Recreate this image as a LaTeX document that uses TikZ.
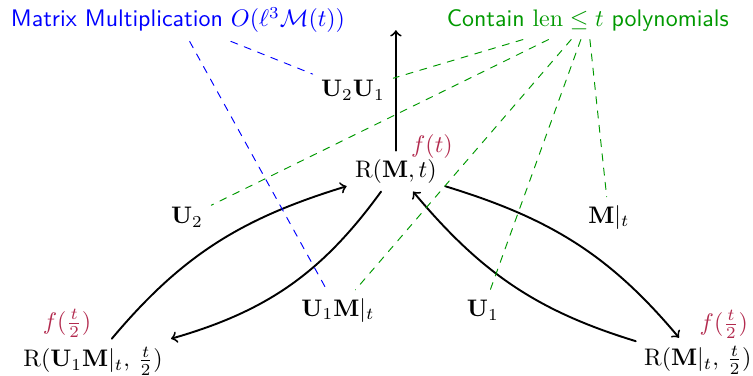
\documentclass[tikz,border=0pt]{standalone}
\usepackage{amsmath}
\definecolor{costred}{RGB}{178,42,78}
\definecolor{polygreen}{RGB}{0,153,0}
\definecolor{mulblue}{RGB}{0,0,255}

\begin{document}
\begin{tikzpicture}[line join=round, line cap=round,
    call/.style={->, thick},
    cost/.style={text=costred, inner sep=0.5pt},
    mulnote/.style={dashed, draw=mulblue},
    polynote/.style={dashed, draw=polygreen}]
  \useasboundingbox (0, 0) rectangle (11.06, 5.51);

  % Notes
  \node[text=mulblue, font=\sffamily] (mul) at (2.614, 5.213)
    {Matrix Multiplication $O(\ell^3\mathcal{M}(t))$};
  \node[text=polygreen, font=\sffamily] (poly) at (8.634, 5.213)
    {Contain $\mathrm{len} \leq t$ polynomials};

  % Recursive calls
  \node (R) at (5.815, 2.996) {$\mathrm{R}(\mathbf{M}, t)$};
  \node (Rl) at (1.366, 0.206) {$\mathrm{R}(\mathbf{U}_1\mathbf{M}|_t,\, \frac{t}{2})$};
  \node (Rr) at (10.250, 0.220) {$\mathrm{R}(\mathbf{M}|_t,\, \frac{t}{2})$};
  \coordinate (out) at (5.815, 5.066);

  % Costs
  \node[cost] (fR) at (6.344, 3.363) {$f(t)$};
  \node[cost] (fRl) at (0.984, 0.760) {$f(\frac{t}{2})$};
  \node[cost] (fRr) at (10.631, 0.745) {$f(\frac{t}{2})$};

  % Matrices
  \node (UU) at (5.184, 4.185) {$\mathbf{U}_2\mathbf{U}_1$};
  \node (U2) at (2.746, 2.320) {$\mathbf{U}_2$};
  \node (Mt) at (8.943, 2.320) {$\mathbf{M}|_t$};
  \node (UM) at (4.963, 0.954) {$\mathbf{U}_1\mathbf{M}|_t$};
  \node (U1) at (7.093, 0.954) {$\mathbf{U}_1$};

  % Arrows
  \draw[call] (R) -- (out);
  \draw[call] (Rl) to[out=50, in=197] (R);
  \draw[call] (R) to[out=234, in=16] (Rl);
  \draw[call] (R) to[out=-17, in=130] (Rr);
  \draw[call] (Rr) to[out=163, in=-50] (R);

  % Dashed notes
  \draw[mulnote] (mul) -- (UU);
  \draw[mulnote] (mul) -- (UM);
  \foreach \m in {UU, U2, UM, U1, Mt}
    \draw[polynote] (poly) -- (\m);
\end{tikzpicture}
\end{document}
